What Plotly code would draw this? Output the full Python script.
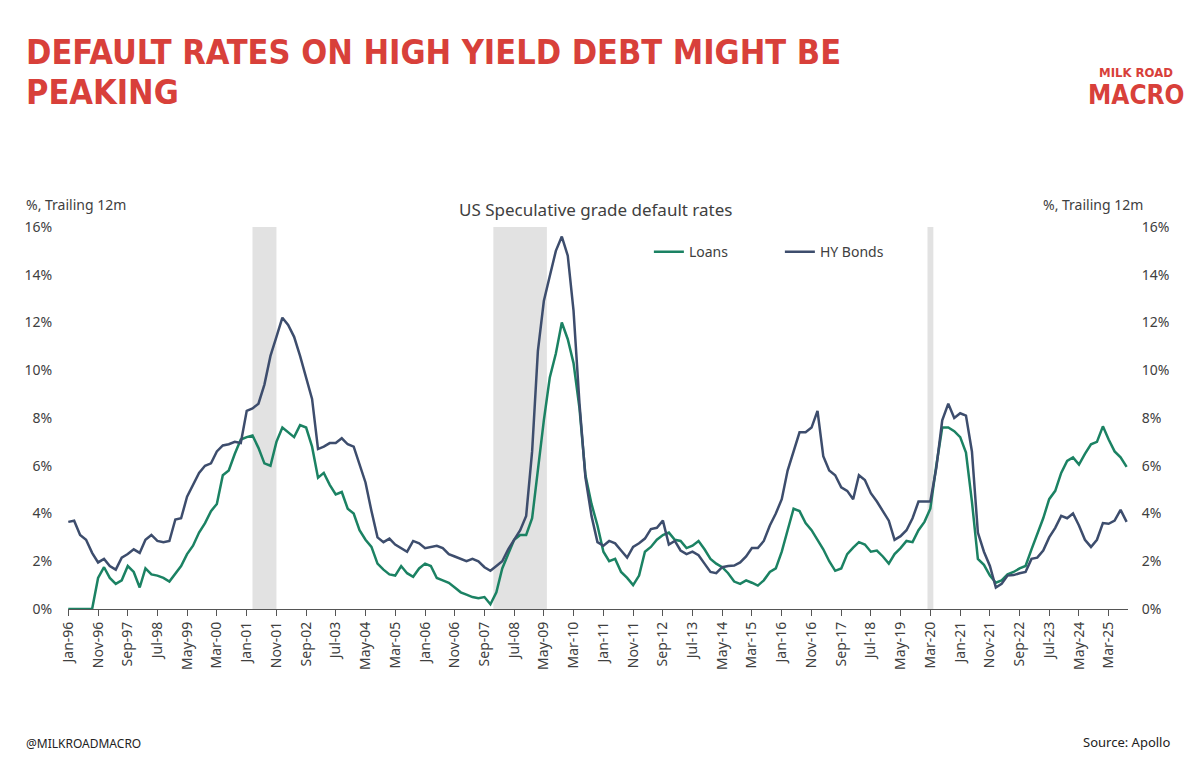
import pandas as pd
import plotly.graph_objects as go

# every second month, Jan-96 .. Sep-25
dates = pd.date_range("1996-01-01", "2025-09-01", freq="2MS")

loans = [
    0, 0, 0, 0, 0, 1.3, 1.75, 1.3, 1.05, 1.2,
    1.8, 1.55, 0.9, 1.7, 1.45, 1.4, 1.3, 1.15, 1.5, 1.8,
    2.3, 2.65, 3.2, 3.6, 4.1, 4.4, 5.6, 5.8, 6.5, 7.1,
    7.2, 7.27, 6.75, 6.1, 6.0, 7.0, 7.6, 7.4, 7.2, 7.7,
    7.6, 6.8, 5.5, 5.7, 5.2, 4.8, 4.9, 4.2, 4.0, 3.3,
    2.9, 2.6, 1.9, 1.65, 1.45, 1.4, 1.8, 1.5, 1.35, 1.7,
    1.9, 1.8, 1.3, 1.2, 1.1, 0.9, 0.7, 0.6, 0.5, 0.45,
    0.5, 0.2, 0.7, 1.7, 2.3, 2.9, 3.1, 3.1, 3.8, 5.8,
    7.9, 9.7, 10.7, 12.0, 11.3, 10.3, 8.4, 5.6, 4.4, 3.5,
    2.4, 2.0, 2.1, 1.55, 1.3, 1.0, 1.4, 2.4, 2.6, 2.9,
    3.1, 3.2, 2.9, 2.85, 2.55, 2.65, 2.85, 2.5, 2.1, 1.9,
    1.75, 1.5, 1.15, 1.05, 1.2, 1.1, 0.98, 1.2, 1.55, 1.7,
    2.4, 3.3, 4.2, 4.1, 3.6, 3.3, 2.9, 2.5, 2.0, 1.6,
    1.7, 2.3, 2.57, 2.8, 2.7, 2.4, 2.45, 2.2, 1.9, 2.3,
    2.55, 2.85, 2.8, 3.3, 3.65, 4.2, 6.0, 7.6, 7.6, 7.45,
    7.2, 6.55, 4.5, 2.1, 1.85, 1.4, 1.1, 1.2, 1.45, 1.55,
    1.7, 1.8, 2.5, 3.1, 3.8, 4.6, 4.95, 5.7, 6.2, 6.35,
    6.05, 6.5, 6.9, 7.0, 7.65, 7.1, 6.6, 6.35, 5.95,
]

hy_bonds = [
    3.65, 3.7, 3.1, 2.9, 2.35, 1.95, 2.1, 1.8, 1.65, 2.15,
    2.3, 2.5, 2.35, 2.9, 3.1, 2.85, 2.8, 2.85, 3.75, 3.8,
    4.7, 5.2, 5.7, 6.0, 6.1, 6.6, 6.85, 6.9, 7.0, 6.95,
    8.3, 8.4, 8.6, 9.4, 10.6, 11.4, 12.2, 11.9, 11.4, 10.6,
    9.7, 8.8, 6.7, 6.8, 6.95, 6.95, 7.15, 6.9, 6.8, 6.1,
    5.3, 4.1, 3.0, 2.8, 2.95, 2.7, 2.55, 2.4, 2.85, 2.75,
    2.55, 2.6, 2.65, 2.55, 2.3, 2.2, 2.1, 2.0, 2.1, 2.0,
    1.75, 1.6, 1.8, 2.0, 2.5, 2.9, 3.3, 3.9, 6.6, 10.8,
    12.9, 13.95, 15.0, 15.6, 14.8, 12.5, 8.6, 5.5, 3.9, 2.8,
    2.65, 2.85, 2.75, 2.45, 2.15, 2.6, 2.75, 2.95, 3.35, 3.4,
    3.7, 2.7, 2.85, 2.45, 2.3, 2.4, 2.25, 1.9, 1.55, 1.5,
    1.75, 1.8, 1.82, 1.95, 2.2, 2.55, 2.55, 2.85, 3.5, 4.0,
    4.6, 5.8, 6.6, 7.4, 7.4, 7.6, 8.3, 6.4, 5.8, 5.6,
    5.1, 4.95, 4.6, 5.6, 5.4, 4.85, 4.5, 4.1, 3.7, 2.9,
    3.05, 3.3, 3.8, 4.5, 4.5, 4.5, 5.9, 7.9, 8.6, 8.0,
    8.2, 8.1, 6.6, 3.2, 2.4, 1.8, 0.9, 1.05, 1.4, 1.42,
    1.5, 1.55, 2.1, 2.15, 2.45, 3.0, 3.4, 3.9, 3.8, 4.0,
    3.5, 2.9, 2.6, 2.9, 3.6, 3.57, 3.7, 4.15, 3.65,
]

# recession periods (shaded)
recession_start = ["2001-03-01", "2007-12-01", "2020-02-01"]
recession_end = ["2001-11-01", "2009-06-01", "2020-04-01"]

tick_dates = pd.date_range("1996-01-01", "2025-03-01", freq="10MS")
tick_labels = [d.strftime("%b-%y") for d in tick_dates]

RED = "#d8403a"
TXT = "#404040"
FONT = "Noto Sans"

fig = go.Figure()
fig.add_scatter(x=dates, y=loans, mode="lines", name="Loans",
                line=dict(color="#1b8263", width=2.5))
fig.add_scatter(x=dates, y=hy_bonds, mode="lines", name="HY Bonds",
                line=dict(color="#3d4d6d", width=2.5), yaxis="y2")

for s, e in zip(recession_start, recession_end):
    fig.add_shape(type="rect", xref="x", yref="paper", x0=s, x1=e, y0=0, y1=1,
                  fillcolor="#e2e2e2", line_width=0, layer="below")

# page has an 8px body margin, so the figure is 8px smaller each way
fig.update_layout(
    width=1191, height=763,
    margin=dict(l=60, r=71, t=219, b=162),
    paper_bgcolor="white", plot_bgcolor="white",
    font=dict(family=FONT, color=TXT, size=14),
    showlegend=True,
    legend=dict(orientation="h", x=0.548, y=0.934, xanchor="left", yanchor="middle",
                font=dict(size=14, color=TXT), itemwidth=30,
                entrywidth=86, entrywidthmode="pixels", bgcolor="rgba(0,0,0,0)"),
    xaxis=dict(range=["1995-12-29", "2025-09-15"], tickmode="array",
               tickvals=tick_dates, ticktext=tick_labels, tickangle=-90,
               ticks="outside", ticklen=6, tickcolor="#555", showline=True,
               linecolor="#555", linewidth=1.2, showgrid=False, zeroline=False,
               tickfont=dict(size=14, color=TXT)),
    yaxis=dict(range=[0, 16], dtick=2, ticksuffix="%", showgrid=False, zeroline=False,
               ticks="outside", ticklen=12, tickcolor="rgba(0,0,0,0)",
               tickfont=dict(size=14, color=TXT)),
    yaxis2=dict(range=[0, 16], dtick=2, ticksuffix="%", overlaying="y", side="right",
                showgrid=False, zeroline=False, ticks="outside", ticklen=10,
                tickcolor="rgba(0,0,0,0)", tickfont=dict(size=14, color=TXT)),
)

def note(text, x, y, xanchor="left", size=14, color=TXT, family=FONT):
    fig.add_annotation(text=text, x=x, y=y, xref="paper", yref="paper",
                       xanchor=xanchor, yanchor="middle", showarrow=False,
                       font=dict(size=size, color=color, family=family))

title_font = "DejaVu Sans Condensed"
note("<b>DEFAULT RATES ON HIGH YIELD DEBT MIGHT BE</b>", -0.0415, 1.459,
     size=34, color=RED, family=title_font)
note("<b>PEAKING</b>", -0.0415, 1.354, size=34, color=RED, family=title_font)

note("US Speculative grade default rates", 0.4976, 1.0446, xanchor="center", size=17)
note("%, Trailing 12m", -0.0415, 1.060, size=14)
note("%, Trailing 12m", 1.016, 1.060, xanchor="right", size=14)

note("@MILKROADMACRO", -0.0415, -0.3526, size=12, color="#222")
note("Source: Apollo", 1.0416, -0.347, xanchor="right", size=13, color="#222")

# logo text
note("<b>MILK ROAD</b>", 1.008, 1.405, xanchor="center", size=13, color=RED, family=title_font)
note("<b>MACRO</b>", 1.008, 1.345, xanchor="center", size=26, color=RED, family=title_font)

fig.write_html("out.html")
